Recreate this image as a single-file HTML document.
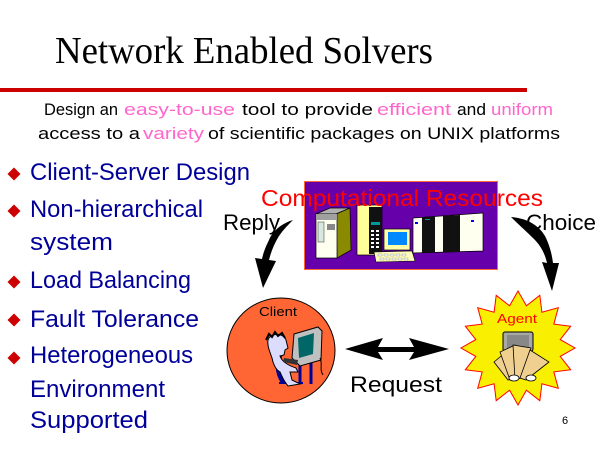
<!DOCTYPE html>
<html><head><meta charset="utf-8"><style>
html,body{margin:0;padding:0;background:#fff;}
svg{display:block;}
.c{font-family:"Liberation Sans",sans-serif;}
</style></head><body>
<svg width="600" height="450" viewBox="0 0 600 450" xmlns="http://www.w3.org/2000/svg">
<rect width="600" height="450" fill="#fff"/>
<!-- Title -->
<text x="55" y="63" font-family="Liberation Serif, serif" font-size="38" textLength="378" lengthAdjust="spacingAndGlyphs" fill="#000">Network Enabled Solvers</text>
<rect x="0" y="88" width="527" height="4" fill="#cc0000"/>
<!-- Subtitle -->
<g class="c" font-size="17">
<text x="44" y="115" textLength="74" lengthAdjust="spacingAndGlyphs" fill="#000">Design an</text>
<text x="124" y="115" textLength="111" lengthAdjust="spacingAndGlyphs" fill="#ff66cc">easy-to-use</text>
<text x="242" y="115" textLength="131" lengthAdjust="spacingAndGlyphs" fill="#000">tool to provide</text>
<text x="377" y="115" textLength="74" lengthAdjust="spacingAndGlyphs" fill="#ff66cc">efficient</text>
<text x="457" y="115" textLength="29" lengthAdjust="spacingAndGlyphs" fill="#000">and</text>
<text x="491" y="115" textLength="62" lengthAdjust="spacingAndGlyphs" fill="#ff66cc">uniform</text>
<text x="38" y="139" textLength="102" lengthAdjust="spacingAndGlyphs" fill="#000">access to a</text>
<text x="143" y="139" textLength="61" lengthAdjust="spacingAndGlyphs" fill="#ff66cc">variety</text>
<text x="208" y="139" textLength="352" lengthAdjust="spacingAndGlyphs" fill="#000">of scientific packages on UNIX platforms</text>
</g>
<!-- Bullets -->
<g fill="#cc0000">
<polygon points="14,167.5 20.5,174 14,180.5 7.5,174"/>
<polygon points="14,204.5 20.5,211 14,217.5 7.5,211"/>
<polygon points="14,275.5 20.5,282 14,288.5 7.5,282"/>
<polygon points="14,313.5 20.5,320 14,326.5 7.5,320"/>
<polygon points="14,351.5 20.5,358 14,364.5 7.5,358"/>
</g>
<g class="c" font-size="24" fill="#000099">
<text x="30" y="180" textLength="220" lengthAdjust="spacingAndGlyphs">Client-Server Design</text>
<text x="30" y="217" textLength="173" lengthAdjust="spacingAndGlyphs">Non-hierarchical</text>
<text x="30" y="250" textLength="83" lengthAdjust="spacingAndGlyphs">system</text>
<text x="30" y="288" textLength="161" lengthAdjust="spacingAndGlyphs">Load Balancing</text>
<text x="30" y="327" textLength="169" lengthAdjust="spacingAndGlyphs">Fault Tolerance</text>
<text x="30" y="363" textLength="163" lengthAdjust="spacingAndGlyphs">Heterogeneous</text>
<text x="30" y="397" textLength="135" lengthAdjust="spacingAndGlyphs">Environment</text>
<text x="30" y="428" textLength="118" lengthAdjust="spacingAndGlyphs">Supported</text>
</g>
<!-- Computational Resources box -->
<rect x="304.5" y="181.5" width="193" height="88" fill="#6600aa" stroke="#ff6633" stroke-width="1"/>
<!-- left tower -->
<polygon points="316,214 336,214 350,208 330,208" fill="#b0b0b0" stroke="#000" stroke-width="0.7"/>
<polygon points="336,214 350,208 351,250 337,258" fill="#8a8a00" stroke="#000" stroke-width="0.7"/>
<rect x="316" y="214" width="21" height="44" fill="#fffff0" stroke="#000" stroke-width="0.7"/>
<rect x="316" y="214" width="21" height="6" fill="#a0a0a0"/>
<rect x="318" y="222" width="6" height="20" fill="#d8e8e0" stroke="#333" stroke-width="0.5"/>
<rect x="327" y="224" width="8" height="6" fill="#888"/>
<!-- yellow tower -->
<rect x="357" y="205" width="25" height="50" fill="#ffff99" stroke="#000" stroke-width="0.7"/>
<rect x="369" y="207" width="13" height="47" fill="#111"/>
<g fill="#fff">
<rect x="371" y="230" width="3" height="2"/><rect x="376" y="230" width="3" height="2"/>
<rect x="371" y="234" width="3" height="2"/><rect x="376" y="234" width="3" height="2"/>
<rect x="371" y="238" width="3" height="2"/><rect x="376" y="238" width="3" height="2"/>
<rect x="371" y="242" width="3" height="2"/><rect x="376" y="242" width="3" height="2"/>
<rect x="371" y="246" width="3" height="2"/><rect x="376" y="246" width="3" height="2"/>
</g>
<rect x="371" y="222" width="9" height="3" fill="#009999"/>
<!-- monitor -->
<rect x="384" y="229" width="26" height="21" fill="#ffffaa" stroke="#000" stroke-width="0.7"/>
<rect x="388" y="232" width="19" height="13" fill="#0088ff"/>
<!-- keyboard -->
<polygon points="374,252 412,251 415,261 376,262" fill="#ffffbb" stroke="#000" stroke-width="0.6"/>
<g fill="#fff" stroke="#555" stroke-width="0.3">
<rect x="378" y="254" width="4" height="2"/><rect x="384" y="254" width="4" height="2"/><rect x="390" y="254" width="4" height="2"/><rect x="396" y="254" width="4" height="2"/><rect x="402" y="254" width="4" height="2"/>
<rect x="380" y="258" width="4" height="2"/><rect x="386" y="258" width="4" height="2"/><rect x="392" y="258" width="4" height="2"/><rect x="398" y="258" width="4" height="2"/><rect x="404" y="258" width="4" height="2"/>
</g>
<!-- right server cabinet -->
<polygon points="413,218 483,213 483,251 413,253" fill="#fffff0" stroke="#000" stroke-width="0.7"/>
<polygon points="422,217.5 435,216.5 435,252.5 422,252.8" fill="#111"/>
<polygon points="443,216 460,215 460,252 443,252.3" fill="#111"/>
<rect x="415" y="222" width="3" height="2" fill="#0000ff"/>
<rect x="471" y="220" width="3" height="2" fill="#0000ff"/>
<rect x="425" y="219" width="5" height="1" fill="#009999"/>
<text x="261" y="206" class="c" font-size="23" fill="#ff0000" textLength="282" lengthAdjust="spacingAndGlyphs">Computational Resources</text>
<!-- Reply / Choice -->
<text x="223" y="230" class="c" font-size="22" fill="#000" textLength="57" lengthAdjust="spacingAndGlyphs">Reply</text>
<text x="526" y="230" class="c" font-size="22" fill="#000" textLength="70" lengthAdjust="spacingAndGlyphs">Choice</text>
<!-- curved arrows -->
<path d="M293,220 C283,223 273,230 269,240 C265,248 263,254 262,259 L255,258 L263,288 L276,261 L269,260 C271,252 274,244 279,236 C283,230 288,225 293,220 Z" fill="#000"/>
<path d="M511,217 C525,218 538,224 545,236 C550,246 552,255 553,263 L559,263 L552,291 L542,262 L547,263 C545,254 541,246 534,239 C527,232 519,225 511,217 Z" fill="#000"/>
<!-- Client -->
<ellipse cx="281" cy="350.5" rx="54" ry="52.5" fill="#ff6633" stroke="#000" stroke-width="1"/>
<text x="259" y="316" class="c" font-size="13" fill="#000" textLength="38" lengthAdjust="spacingAndGlyphs">Client</text>
<!-- client figure -->
<path d="M280,352 C277,362 278,374 284,382" fill="none" stroke="#000099" stroke-width="6"/>
<line x1="279" y1="383" x2="303" y2="383" stroke="#000099" stroke-width="2"/>
<line x1="286" y1="361" x2="314" y2="361" stroke="#000099" stroke-width="3"/>
<line x1="300" y1="361" x2="300" y2="384" stroke="#000099" stroke-width="3"/>
<line x1="311" y1="361" x2="311" y2="384" stroke="#000099" stroke-width="3"/>
<path d="M268,340 C270,333 283,332 286,340 L288,348 L285,350 L284,355 L280,356 C282,362 290,366 296,368 L298,372 L290,372 L292,380 L300,384 L288,386 C283,380 282,376 280,372 C276,370 273,364 272,358 C270,352 267,346 268,340 Z" fill="#dcdcff" stroke="#000" stroke-width="1"/>
<path d="M266,340 L269,334 L272,337 L275,332 L278,336 L282,333 L285,338" fill="none" stroke="#000" stroke-width="2"/>
<polygon points="294,334 318,327 322,331 321,360 300,366 292,358" fill="#c0c0c0" stroke="#000" stroke-width="1"/>
<polygon points="298,338 314,333 313,354 299,358" fill="#006666"/>
<polygon points="284,358 298,360 297,365 283,362" fill="#333"/>
<path d="M320,358 C323,364 319,369 323,375" fill="none" stroke="#000" stroke-width="1"/>
<!-- double arrow -->
<path d="M345,349 L383,338 L378,347 L414,347 L409,338 L449,349 L409,360 L414,352 L378,352 L383,360 Z" fill="#000"/>
<text x="350" y="392" class="c" font-size="22" fill="#000" textLength="92" lengthAdjust="spacingAndGlyphs">Request</text>
<!-- Agent star -->
<polygon fill="#f8f000" stroke="#ff0000" stroke-width="1" points="518,291 526.4,305.8 539.8,295.3 541.9,312.2 558.3,307.7 553.8,324.1 570.7,326.2 560.2,339.6 575,348 560.2,356.4 570.7,369.8 553.8,371.9 558.3,388.3 541.9,383.8 539.8,400.7 526.4,390.2 518,405 509.6,390.2 496.2,400.7 494.1,383.8 477.7,388.3 482.2,371.9 465.3,369.8 475.8,356.4 461,348 475.8,339.6 465.3,326.2 482.2,324.1 477.7,307.7 494.1,312.2 496.2,295.3 509.6,305.8"/>
<text x="497" y="323" class="c" font-size="13" fill="#ff0000" textLength="40" lengthAdjust="spacingAndGlyphs">Agent</text>
<rect x="503" y="332" width="30" height="19" rx="2" fill="#a8a8a8" stroke="#000" stroke-width="1"/>
<rect x="507" y="335" width="22" height="13" fill="#888"/>
<polygon points="494,362 506,352 518,378 508,380" fill="#f0d090" stroke="#000" stroke-width="0.8"/>
<polygon points="500,352 515,345 520,378 510,380" fill="#f0d090" stroke="#000" stroke-width="0.8"/>
<polygon points="513,345 531,348 522,378 515,379" fill="#f0d090" stroke="#000" stroke-width="0.8"/>
<polygon points="530,350 549,362 526,380 520,378" fill="#f0d090" stroke="#000" stroke-width="0.8"/>
<ellipse cx="514" cy="378" rx="5" ry="3" fill="#fff" stroke="#000" stroke-width="0.8"/>
<ellipse cx="531" cy="378" rx="5" ry="3" fill="#fff" stroke="#000" stroke-width="0.8"/>
<!-- page number -->
<text x="562" y="424" class="c" font-size="11" fill="#000">6</text>
</svg>
</body></html>
